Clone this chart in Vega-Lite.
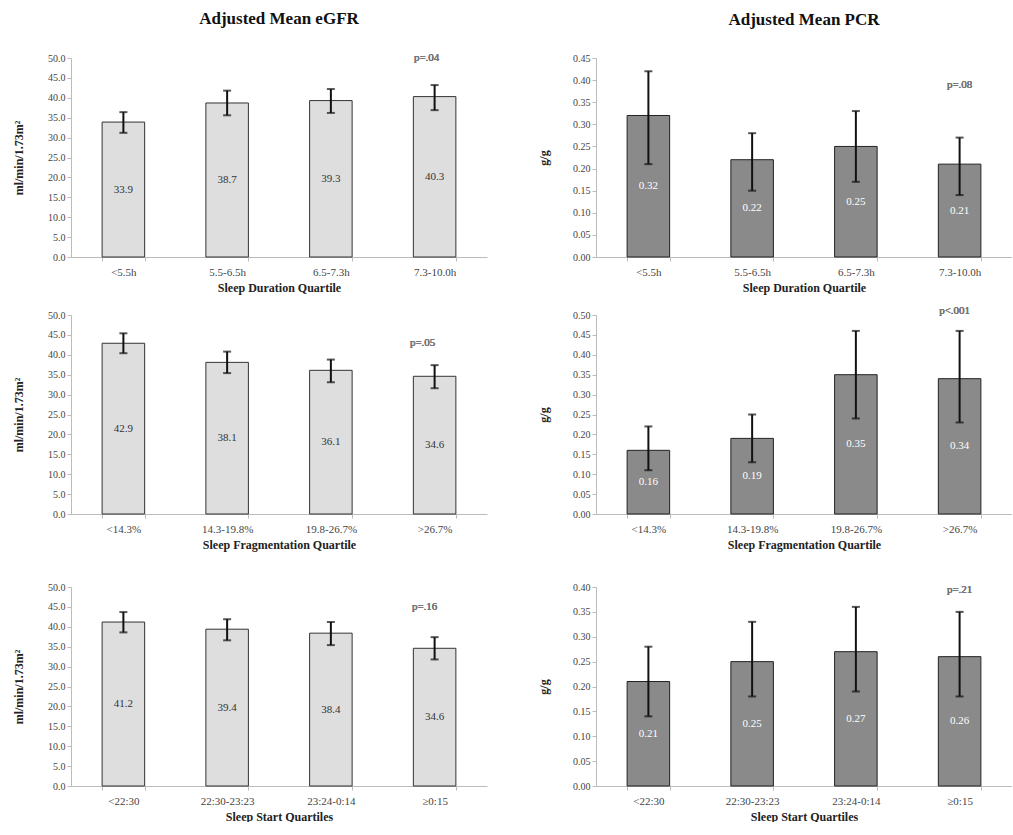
{
  "$schema": "https://vega.github.io/schema/vega-lite/v6.json",
  "padding": {"left": 12, "top": 10, "right": 0, "bottom": 0},
  "background": "white",
  "spacing": 12,
  "datasets": {
    "egfr_dur": [
      {"group": "<5.5h", "mean": 33.9, "lo": 31.2, "hi": 36.4},
      {"group": "5.5-6.5h", "mean": 38.7, "lo": 35.6, "hi": 41.8},
      {"group": "6.5-7.3h", "mean": 39.3, "lo": 36.2, "hi": 42.2},
      {"group": "7.3-10.0h", "mean": 40.3, "lo": 36.9, "hi": 43.2}
    ],
    "egfr_frag": [
      {"group": "<14.3%", "mean": 42.9, "lo": 40.4, "hi": 45.4},
      {"group": "14.3-19.8%", "mean": 38.1, "lo": 35.4, "hi": 40.8},
      {"group": "19.8-26.7%", "mean": 36.1, "lo": 33.1, "hi": 38.8},
      {"group": ">26.7%", "mean": 34.6, "lo": 31.6, "hi": 37.4}
    ],
    "egfr_start": [
      {"group": "<22:30", "mean": 41.2, "lo": 38.6, "hi": 43.7},
      {"group": "22:30-23:23", "mean": 39.4, "lo": 36.6, "hi": 41.9},
      {"group": "23:24-0:14", "mean": 38.4, "lo": 35.4, "hi": 41.2},
      {"group": "≥0:15", "mean": 34.6, "lo": 31.8, "hi": 37.4}
    ],
    "pcr_dur": [
      {"group": "<5.5h", "mean": 0.32, "lo": 0.21, "hi": 0.42},
      {"group": "5.5-6.5h", "mean": 0.22, "lo": 0.15, "hi": 0.28},
      {"group": "6.5-7.3h", "mean": 0.25, "lo": 0.17, "hi": 0.33},
      {"group": "7.3-10.0h", "mean": 0.21, "lo": 0.14, "hi": 0.27}
    ],
    "pcr_frag": [
      {"group": "<14.3%", "mean": 0.16, "lo": 0.11, "hi": 0.22},
      {"group": "14.3-19.8%", "mean": 0.19, "lo": 0.13, "hi": 0.25},
      {"group": "19.8-26.7%", "mean": 0.35, "lo": 0.24, "hi": 0.46},
      {"group": ">26.7%", "mean": 0.34, "lo": 0.23, "hi": 0.46}
    ],
    "pcr_start": [
      {"group": "<22:30", "mean": 0.21, "lo": 0.14, "hi": 0.28},
      {"group": "22:30-23:23", "mean": 0.25, "lo": 0.18, "hi": 0.33},
      {"group": "23:24-0:14", "mean": 0.27, "lo": 0.19, "hi": 0.36},
      {"group": "≥0:15", "mean": 0.26, "lo": 0.18, "hi": 0.35}
    ]
  },
  "config": {
    "font": "Liberation Serif",
    "view": {"stroke": null},
    "text": {"fontWeight": "normal"},
    "axis": {"labelFont": "Liberation Serif", "labelFontSize": 10, "labelColor": "#444", "labelOverlap": false, "titleFont": "Liberation Serif", "titleFontSize": 12, "titleFontWeight": "bold", "titleColor": "#222", "grid": false, "domainColor": "#bbb", "tickColor": "#bbb", "tickSize": 4},
    "axisX": {"labelAngle": 0, "tickBand": "extent", "labelPadding": 5, "titlePadding": 5, "labelFontSize": 11},
    "axisY": {"titlePadding": 22},
    "title": {"font": "Liberation Serif", "fontSize": 17, "fontWeight": "bold", "color": "#111", "offset": 24},
    "concat": {"spacing": 50}
  },
  "vconcat": [
    {"hconcat": [
      {
        "width": 416, "height": 199,
        "title": "Adjusted Mean eGFR",
        "data": {"name": "egfr_dur"},
        "layer": [
          {"layer": [
            {"mark": {"type": "bar", "color": "#dedede", "stroke": "#333", "strokeWidth": 1},
             "encoding": {
               "x": {"field": "group", "type": "nominal", "sort": null, "scale": {"paddingInner": 0.59, "paddingOuter": 0.3}, "axis": {"title": "Sleep Duration Quartile"}},
               "y": {"field": "mean", "type": "quantitative", "scale": {"domain": [0, 50], "nice": false}, "axis": {"title": "ml/min/1.73m²", "format": ".1f", "values": [0,5,10,15,20,25,30,35,40,45,50]}}}},
            {"mark": {"type": "rule", "color": "#111", "strokeWidth": 2},
             "encoding": {"x": {"field": "group", "type": "nominal", "sort": null}, "y": {"field": "lo", "type": "quantitative", "axis": {"title": "ml/min/1.73m²", "format": ".1f", "values": [0,5,10,15,20,25,30,35,40,45,50]}}, "y2": {"field": "hi"}}},
            {"mark": {"type": "tick", "color": "#111", "size": 8, "thickness": 2},
             "encoding": {"x": {"field": "group", "type": "nominal", "sort": null}, "y": {"field": "hi", "type": "quantitative", "axis": {"title": "ml/min/1.73m²", "format": ".1f", "values": [0,5,10,15,20,25,30,35,40,45,50]}}}},
            {"mark": {"type": "tick", "color": "#111", "size": 8, "thickness": 2},
             "encoding": {"x": {"field": "group", "type": "nominal", "sort": null}, "y": {"field": "lo", "type": "quantitative", "axis": {"title": "ml/min/1.73m²", "format": ".1f", "values": [0,5,10,15,20,25,30,35,40,45,50]}}}},
            {"mark": {"type": "text", "text": "p=.04", "fontSize": 11, "fontWeight": "normal", "color": "#777", "dx": -8},
             "encoding": {"x": {"datum": "7.3-10.0h", "type": "nominal"}, "y": {"datum": 50, "type": "quantitative", "axis": {"title": "ml/min/1.73m²", "format": ".1f", "values": [0,5,10,15,20,25,30,35,40,45,50]}}}}
          ]},
          {"mark": {"type": "text", "fontSize": 11, "fontWeight": "normal", "color": "#333", "baseline": "middle"},
           "encoding": {"x": {"field": "group", "type": "nominal", "sort": null}, "y": {"field": "mean", "type": "quantitative", "scale": {"domain": [0, 100], "nice": false}, "axis": null}, "text": {"field": "mean", "type": "quantitative", "format": ".1f"}}}
        ],
        "resolve": {"scale": {"y": "independent"}}
      },
      {
        "width": 416, "height": 199,
        "title": "Adjusted Mean PCR",
        "data": {"name": "pcr_dur"},
        "layer": [
          {"layer": [
            {"mark": {"type": "bar", "color": "#8a8a8a", "stroke": "#222", "strokeWidth": 1},
             "encoding": {
               "x": {"field": "group", "type": "nominal", "sort": null, "scale": {"paddingInner": 0.59, "paddingOuter": 0.3}, "axis": {"title": "Sleep Duration Quartile"}},
               "y": {"field": "mean", "type": "quantitative", "scale": {"domain": [0, 0.45], "nice": false}, "axis": {"title": "g/g", "format": ".2f", "values": [0,0.05,0.1,0.15,0.2,0.25,0.3,0.35,0.4,0.45]}}}},
            {"mark": {"type": "rule", "color": "#111", "strokeWidth": 2},
             "encoding": {"x": {"field": "group", "type": "nominal", "sort": null}, "y": {"field": "lo", "type": "quantitative", "axis": {"title": "g/g", "format": ".2f", "values": [0,0.05,0.1,0.15,0.2,0.25,0.3,0.35,0.4,0.45]}}, "y2": {"field": "hi"}}},
            {"mark": {"type": "tick", "color": "#111", "size": 8, "thickness": 2},
             "encoding": {"x": {"field": "group", "type": "nominal", "sort": null}, "y": {"field": "hi", "type": "quantitative", "axis": {"title": "g/g", "format": ".2f", "values": [0,0.05,0.1,0.15,0.2,0.25,0.3,0.35,0.4,0.45]}}}},
            {"mark": {"type": "tick", "color": "#111", "size": 8, "thickness": 2},
             "encoding": {"x": {"field": "group", "type": "nominal", "sort": null}, "y": {"field": "lo", "type": "quantitative", "axis": {"title": "g/g", "format": ".2f", "values": [0,0.05,0.1,0.15,0.2,0.25,0.3,0.35,0.4,0.45]}}}},
            {"mark": {"type": "text", "text": "p=.08", "fontSize": 11, "fontWeight": "normal", "color": "#777", "dx": 0},
             "encoding": {"x": {"datum": "7.3-10.0h", "type": "nominal"}, "y": {"datum": 0.39, "type": "quantitative", "axis": {"title": "g/g", "format": ".2f", "values": [0,0.05,0.1,0.15,0.2,0.25,0.3,0.35,0.4,0.45]}}}}
          ]},
          {"mark": {"type": "text", "fontSize": 11, "fontWeight": "normal", "color": "white", "baseline": "middle"},
           "encoding": {"x": {"field": "group", "type": "nominal", "sort": null}, "y": {"field": "mean", "type": "quantitative", "scale": {"domain": [0, 0.9], "nice": false}, "axis": null}, "text": {"field": "mean", "type": "quantitative", "format": ".2f"}}}
        ],
        "resolve": {"scale": {"y": "independent"}}
      }
    ]},
    {"spacing": 32, "vconcat": [
    {"hconcat": [
      {
        "width": 416, "height": 199,
        "data": {"name": "egfr_frag"},
        "layer": [
          {"layer": [
            {"mark": {"type": "bar", "color": "#dedede", "stroke": "#333", "strokeWidth": 1},
             "encoding": {
               "x": {"field": "group", "type": "nominal", "sort": null, "scale": {"paddingInner": 0.59, "paddingOuter": 0.3}, "axis": {"title": "Sleep Fragmentation Quartile"}},
               "y": {"field": "mean", "type": "quantitative", "scale": {"domain": [0, 50], "nice": false}, "axis": {"title": "ml/min/1.73m²", "format": ".1f", "values": [0,5,10,15,20,25,30,35,40,45,50]}}}},
            {"mark": {"type": "rule", "color": "#111", "strokeWidth": 2},
             "encoding": {"x": {"field": "group", "type": "nominal", "sort": null}, "y": {"field": "lo", "type": "quantitative", "axis": {"title": "ml/min/1.73m²", "format": ".1f", "values": [0,5,10,15,20,25,30,35,40,45,50]}}, "y2": {"field": "hi"}}},
            {"mark": {"type": "tick", "color": "#111", "size": 8, "thickness": 2},
             "encoding": {"x": {"field": "group", "type": "nominal", "sort": null}, "y": {"field": "hi", "type": "quantitative", "axis": {"title": "ml/min/1.73m²", "format": ".1f", "values": [0,5,10,15,20,25,30,35,40,45,50]}}}},
            {"mark": {"type": "tick", "color": "#111", "size": 8, "thickness": 2},
             "encoding": {"x": {"field": "group", "type": "nominal", "sort": null}, "y": {"field": "lo", "type": "quantitative", "axis": {"title": "ml/min/1.73m²", "format": ".1f", "values": [0,5,10,15,20,25,30,35,40,45,50]}}}},
            {"mark": {"type": "text", "text": "p=.05", "fontSize": 11, "fontWeight": "normal", "color": "#777", "dx": -12},
             "encoding": {"x": {"datum": ">26.7%", "type": "nominal"}, "y": {"datum": 43, "type": "quantitative", "axis": {"title": "ml/min/1.73m²", "format": ".1f", "values": [0,5,10,15,20,25,30,35,40,45,50]}}}}
          ]},
          {"mark": {"type": "text", "fontSize": 11, "fontWeight": "normal", "color": "#333", "baseline": "middle"},
           "encoding": {"x": {"field": "group", "type": "nominal", "sort": null}, "y": {"field": "mean", "type": "quantitative", "scale": {"domain": [0, 100], "nice": false}, "axis": null}, "text": {"field": "mean", "type": "quantitative", "format": ".1f"}}}
        ],
        "resolve": {"scale": {"y": "independent"}}
      },
      {
        "width": 416, "height": 199,
        "data": {"name": "pcr_frag"},
        "layer": [
          {"layer": [
            {"mark": {"type": "bar", "color": "#8a8a8a", "stroke": "#222", "strokeWidth": 1},
             "encoding": {
               "x": {"field": "group", "type": "nominal", "sort": null, "scale": {"paddingInner": 0.59, "paddingOuter": 0.3}, "axis": {"title": "Sleep Fragmentation Quartile"}},
               "y": {"field": "mean", "type": "quantitative", "scale": {"domain": [0, 0.5], "nice": false}, "axis": {"title": "g/g", "format": ".2f", "values": [0,0.05,0.1,0.15,0.2,0.25,0.3,0.35,0.4,0.45,0.5]}}}},
            {"mark": {"type": "rule", "color": "#111", "strokeWidth": 2},
             "encoding": {"x": {"field": "group", "type": "nominal", "sort": null}, "y": {"field": "lo", "type": "quantitative", "axis": {"title": "g/g", "format": ".2f", "values": [0,0.05,0.1,0.15,0.2,0.25,0.3,0.35,0.4,0.45,0.5]}}, "y2": {"field": "hi"}}},
            {"mark": {"type": "tick", "color": "#111", "size": 8, "thickness": 2},
             "encoding": {"x": {"field": "group", "type": "nominal", "sort": null}, "y": {"field": "hi", "type": "quantitative", "axis": {"title": "g/g", "format": ".2f", "values": [0,0.05,0.1,0.15,0.2,0.25,0.3,0.35,0.4,0.45,0.5]}}}},
            {"mark": {"type": "tick", "color": "#111", "size": 8, "thickness": 2},
             "encoding": {"x": {"field": "group", "type": "nominal", "sort": null}, "y": {"field": "lo", "type": "quantitative", "axis": {"title": "g/g", "format": ".2f", "values": [0,0.05,0.1,0.15,0.2,0.25,0.3,0.35,0.4,0.45,0.5]}}}},
            {"mark": {"type": "text", "text": "p<.001", "fontSize": 11, "fontWeight": "normal", "color": "#777", "dx": -5},
             "encoding": {"x": {"datum": ">26.7%", "type": "nominal"}, "y": {"datum": 0.51, "type": "quantitative", "axis": {"title": "g/g", "format": ".2f", "values": [0,0.05,0.1,0.15,0.2,0.25,0.3,0.35,0.4,0.45,0.5]}}}}
          ]},
          {"mark": {"type": "text", "fontSize": 11, "fontWeight": "normal", "color": "white", "baseline": "middle"},
           "encoding": {"x": {"field": "group", "type": "nominal", "sort": null}, "y": {"field": "mean", "type": "quantitative", "scale": {"domain": [0, 1.0], "nice": false}, "axis": null}, "text": {"field": "mean", "type": "quantitative", "format": ".2f"}}}
        ],
        "resolve": {"scale": {"y": "independent"}}
      }
    ]},
    {"hconcat": [
      {
        "width": 416, "height": 199,
        "data": {"name": "egfr_start"},
        "layer": [
          {"layer": [
            {"mark": {"type": "bar", "color": "#dedede", "stroke": "#333", "strokeWidth": 1},
             "encoding": {
               "x": {"field": "group", "type": "nominal", "sort": null, "scale": {"paddingInner": 0.59, "paddingOuter": 0.3}, "axis": {"title": "Sleep Start Quartiles"}},
               "y": {"field": "mean", "type": "quantitative", "scale": {"domain": [0, 50], "nice": false}, "axis": {"title": "ml/min/1.73m²", "format": ".1f", "values": [0,5,10,15,20,25,30,35,40,45,50]}}}},
            {"mark": {"type": "rule", "color": "#111", "strokeWidth": 2},
             "encoding": {"x": {"field": "group", "type": "nominal", "sort": null}, "y": {"field": "lo", "type": "quantitative", "axis": {"title": "ml/min/1.73m²", "format": ".1f", "values": [0,5,10,15,20,25,30,35,40,45,50]}}, "y2": {"field": "hi"}}},
            {"mark": {"type": "tick", "color": "#111", "size": 8, "thickness": 2},
             "encoding": {"x": {"field": "group", "type": "nominal", "sort": null}, "y": {"field": "hi", "type": "quantitative", "axis": {"title": "ml/min/1.73m²", "format": ".1f", "values": [0,5,10,15,20,25,30,35,40,45,50]}}}},
            {"mark": {"type": "tick", "color": "#111", "size": 8, "thickness": 2},
             "encoding": {"x": {"field": "group", "type": "nominal", "sort": null}, "y": {"field": "lo", "type": "quantitative", "axis": {"title": "ml/min/1.73m²", "format": ".1f", "values": [0,5,10,15,20,25,30,35,40,45,50]}}}},
            {"mark": {"type": "text", "text": "p=.16", "fontSize": 11, "fontWeight": "normal", "color": "#777", "dx": -10},
             "encoding": {"x": {"datum": "≥0:15", "type": "nominal"}, "y": {"datum": 45, "type": "quantitative", "axis": {"title": "ml/min/1.73m²", "format": ".1f", "values": [0,5,10,15,20,25,30,35,40,45,50]}}}}
          ]},
          {"mark": {"type": "text", "fontSize": 11, "fontWeight": "normal", "color": "#333", "baseline": "middle"},
           "encoding": {"x": {"field": "group", "type": "nominal", "sort": null}, "y": {"field": "mean", "type": "quantitative", "scale": {"domain": [0, 100], "nice": false}, "axis": null}, "text": {"field": "mean", "type": "quantitative", "format": ".1f"}}}
        ],
        "resolve": {"scale": {"y": "independent"}}
      },
      {
        "width": 416, "height": 199,
        "data": {"name": "pcr_start"},
        "layer": [
          {"layer": [
            {"mark": {"type": "bar", "color": "#8a8a8a", "stroke": "#222", "strokeWidth": 1},
             "encoding": {
               "x": {"field": "group", "type": "nominal", "sort": null, "scale": {"paddingInner": 0.59, "paddingOuter": 0.3}, "axis": {"title": "Sleep Start Quartiles"}},
               "y": {"field": "mean", "type": "quantitative", "scale": {"domain": [0, 0.4], "nice": false}, "axis": {"title": "g/g", "format": ".2f", "values": [0,0.05,0.1,0.15,0.2,0.25,0.3,0.35,0.4]}}}},
            {"mark": {"type": "rule", "color": "#111", "strokeWidth": 2},
             "encoding": {"x": {"field": "group", "type": "nominal", "sort": null}, "y": {"field": "lo", "type": "quantitative", "axis": {"title": "g/g", "format": ".2f", "values": [0,0.05,0.1,0.15,0.2,0.25,0.3,0.35,0.4]}}, "y2": {"field": "hi"}}},
            {"mark": {"type": "tick", "color": "#111", "size": 8, "thickness": 2},
             "encoding": {"x": {"field": "group", "type": "nominal", "sort": null}, "y": {"field": "hi", "type": "quantitative", "axis": {"title": "g/g", "format": ".2f", "values": [0,0.05,0.1,0.15,0.2,0.25,0.3,0.35,0.4]}}}},
            {"mark": {"type": "tick", "color": "#111", "size": 8, "thickness": 2},
             "encoding": {"x": {"field": "group", "type": "nominal", "sort": null}, "y": {"field": "lo", "type": "quantitative", "axis": {"title": "g/g", "format": ".2f", "values": [0,0.05,0.1,0.15,0.2,0.25,0.3,0.35,0.4]}}}},
            {"mark": {"type": "text", "text": "p=.21", "fontSize": 11, "fontWeight": "normal", "color": "#777", "dx": 0},
             "encoding": {"x": {"datum": "≥0:15", "type": "nominal"}, "y": {"datum": 0.394, "type": "quantitative", "axis": {"title": "g/g", "format": ".2f", "values": [0,0.05,0.1,0.15,0.2,0.25,0.3,0.35,0.4]}}}}
          ]},
          {"mark": {"type": "text", "fontSize": 11, "fontWeight": "normal", "color": "white", "baseline": "middle"},
           "encoding": {"x": {"field": "group", "type": "nominal", "sort": null}, "y": {"field": "mean", "type": "quantitative", "scale": {"domain": [0, 0.8], "nice": false}, "axis": null}, "text": {"field": "mean", "type": "quantitative", "format": ".2f"}}}
        ],
        "resolve": {"scale": {"y": "independent"}}
      }
    ]}
    ]}
  ]
}
